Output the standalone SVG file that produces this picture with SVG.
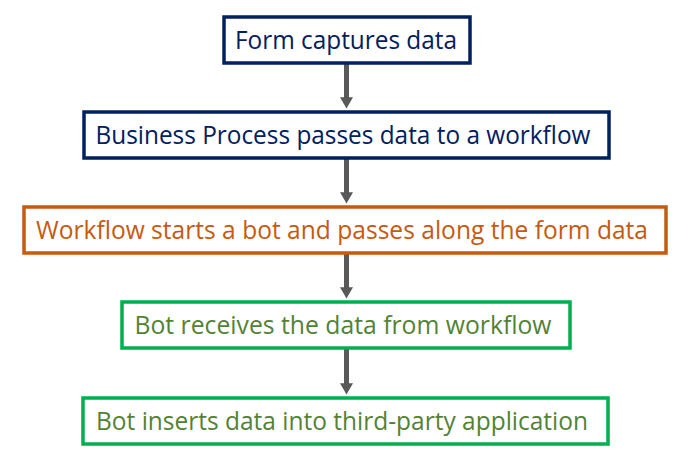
<svg xmlns="http://www.w3.org/2000/svg" width="690" height="466" viewBox="0 0 690 466">
<style>
.box{fill:#fff;stroke-width:3.5}
.t{font-family:"Open Sans","Liberation Sans",sans-serif;font-size:25px;text-anchor:middle}
.navy{stroke:#002060}.navyt{fill:#002060}
.org{stroke:#C55A11}.orgt{fill:#C55A11}
.grn{stroke:#00B050}.grnt{fill:#548235}
.c{stroke:#595959;stroke-width:5;fill:none}
</style>
<defs>
<marker id="ah" markerWidth="15" markerHeight="13" refX="1" refY="7.5" orient="auto" markerUnits="userSpaceOnUse" viewBox="0 0 13 15">
<path d="M0,0 L13,7.5 L0,15 Z" fill="#595959"/>
</marker>
</defs>
<g id="connectors">
<line class="c" x1="346.5" y1="64" x2="346.5" y2="98" marker-end="url(#ah)"/>
<line class="c" x1="346.5" y1="159" x2="346.5" y2="193" marker-end="url(#ah)"/>
<line class="c" x1="346.5" y1="254" x2="346.5" y2="288" marker-end="url(#ah)"/>
<line class="c" x1="346.5" y1="349" x2="346.5" y2="384" marker-end="url(#ah)"/>
</g>
<g id="n1">
<rect class="box navy" x="224" y="17" width="246" height="46"/>
<text class="t navyt" x="346" y="49" textLength="222" lengthAdjust="spacingAndGlyphs">Form captures data</text>
</g>
<g id="n2">
<rect class="box navy" x="84" y="112" width="525" height="46"/>
<text class="t navyt" x="343" y="144" textLength="495" lengthAdjust="spacingAndGlyphs">Business Process passes data to a workflow</text>
</g>
<g id="n3">
<rect class="box org" x="24" y="207" width="642" height="46"/>
<text class="t orgt" x="342" y="239" textLength="612" lengthAdjust="spacingAndGlyphs">Workflow starts a bot and passes along the form data</text>
</g>
<g id="n4">
<rect class="box grn" x="122" y="302" width="448" height="46"/>
<text class="t grnt" x="343" y="334" textLength="417" lengthAdjust="spacingAndGlyphs">Bot receives the data from workflow</text>
</g>
<g id="n5">
<rect class="box grn" x="83" y="398" width="525" height="46"/>
<text class="t grnt" x="342" y="430" textLength="492" lengthAdjust="spacingAndGlyphs">Bot inserts data into third-party application</text>
</g>
</svg>
